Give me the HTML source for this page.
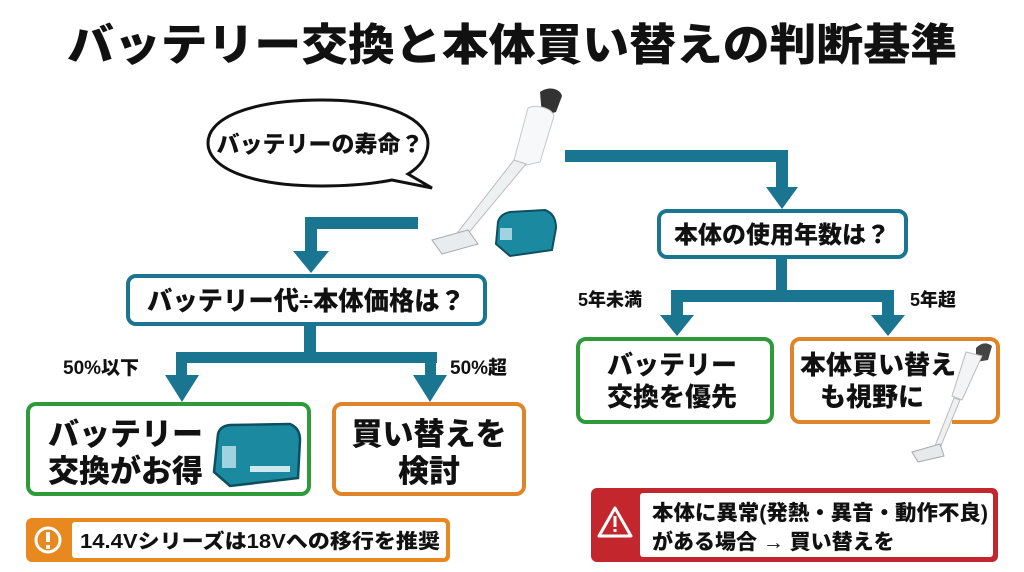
<!DOCTYPE html>
<html><head><meta charset="utf-8"><style>
html,body{margin:0;padding:0;background:#fff;}
svg{display:block;}
text{font-family:"Liberation Sans","Noto Sans CJK JP",sans-serif;font-weight:900;fill:#111;}
</style></head><body>
<svg width="1024" height="572" viewBox="0 0 1024 572" xmlns="http://www.w3.org/2000/svg">
<rect width="1024" height="572" fill="#fff"/>
<!-- title -->
<text x="512" y="60" font-size="44" text-anchor="middle" textLength="890" lengthAdjust="spacingAndGlyphs">バッテリー交換と本体買い替えの判断基準</text>

<!-- speech bubble -->
<path d="M322,100 C390,100 428,120 428,143 C428,158 418,168 408,174 L432,188 L392,180 C372,184 350,186 322,186 C250,186 208,168 208,143 C208,118 250,100 322,100 Z" fill="#fff" stroke="#111" stroke-width="3"/>
<text x="320" y="152" font-size="23" text-anchor="middle">バッテリーの寿命？</text>

<!-- vacuum -->
<g>
<path d="M540,92 C548,86 560,88 562,96 L556,112 L542,116 Z" fill="#333"/>
<path d="M528,108 C536,104 552,108 554,116 L540,162 L522,166 L514,160 Z" fill="#f6f8f9" stroke="#c4c8ca" stroke-width="1"/>
<path d="M514,160 L526,164 L466,236 L458,232 Z" fill="#eef1f2" stroke="#bbb" stroke-width="1"/>
<path d="M432,240 L468,230 L478,244 L442,254 Z" fill="#e8ecee" stroke="#aaa" stroke-width="1"/>
</g>
<!-- battery top -->
<g>
<path d="M498,222 Q500,214 510,212 L545,210 Q556,214 556,228 L552,250 L510,256 L496,244 Z" fill="#1b8aa0" stroke="#0d4f5e" stroke-width="2"/>
<rect x="500" y="228" width="12" height="12" fill="#9fd3df"/>
</g>

<!-- left connectors -->
<g fill="#1a7590">
<rect x="305" y="217" width="113" height="12"/>
<rect x="305" y="217" width="12" height="36"/>
<polygon points="293,251 329,251 311,273"/>
<rect x="304" y="324" width="12" height="34"/>
<rect x="176" y="352" width="261" height="11"/>
<rect x="176" y="352" width="11" height="26"/>
<rect x="425" y="352" width="11" height="26"/>
<polygon points="165,375 199,375 182,402"/>
<polygon points="413,375 447,375 430,402"/>
</g>
<rect x="128" y="276" width="357" height="48" rx="8" fill="#fff" stroke="#1a7590" stroke-width="4"/>
<text x="306" y="310" font-size="26" text-anchor="middle" textLength="318" lengthAdjust="spacingAndGlyphs">バッテリー代÷本体価格は？</text>
<text x="63" y="374" font-size="19">50%以下</text>
<text x="450" y="374" font-size="19">50%超</text>

<rect x="28" y="404" width="281" height="90" rx="8" fill="#fff" stroke="#2e9a3a" stroke-width="4"/>
<text x="48" y="445" font-size="31">バッテリー</text>
<text x="48" y="482" font-size="31">交換がお得</text>
<g>
<path d="M218,434 Q220,426 230,425 L290,424 Q300,428 300,440 L298,478 L230,486 L214,472 Z" fill="#1b8aa0" stroke="#0d4f5e" stroke-width="2.5"/>
<rect x="222" y="446" width="14" height="22" fill="#9fd3df"/>
<rect x="250" y="466" width="40" height="6" fill="#cde9ef"/>
</g>
<rect x="334" y="404" width="190" height="90" rx="8" fill="#fff" stroke="#e0842a" stroke-width="4"/>
<text x="429" y="445" font-size="31" text-anchor="middle">買い替えを</text>
<text x="429" y="482" font-size="31" text-anchor="middle">検討</text>

<!-- note -->
<rect x="26" y="518" width="424" height="44" rx="6" fill="#e8891f"/>
<rect x="72" y="522" width="374" height="36" rx="3" fill="#fff"/>
<circle cx="48" cy="540" r="12" fill="none" stroke="#fff" stroke-width="3"/>
<rect x="46" y="532" width="4" height="10" fill="#fff"/>
<rect x="46" y="545" width="4" height="4" fill="#fff"/>
<text x="80" y="548" font-size="20" textLength="360" lengthAdjust="spacingAndGlyphs">14.4Vシリーズは18Vへの移行を推奨</text>

<!-- right connectors -->
<g fill="#1a7590">
<rect x="565" y="150" width="223" height="12"/>
<rect x="776" y="150" width="12" height="40"/>
<polygon points="766,187 798,187 782,209"/>
<rect x="776" y="256" width="11" height="40"/>
<rect x="671" y="290" width="222" height="12"/>
<rect x="671" y="290" width="12" height="28"/>
<rect x="882" y="290" width="12" height="28"/>
<polygon points="660,315 694,315 677,336"/>
<polygon points="871,315 905,315 888,336"/>
</g>
<rect x="659" y="211" width="247" height="46" rx="8" fill="#fff" stroke="#1a7590" stroke-width="4"/>
<text x="782" y="243" font-size="24" text-anchor="middle">本体の使用年数は？</text>
<text x="578" y="306" font-size="18">5年未満</text>
<text x="910" y="306" font-size="18">5年超</text>

<rect x="578" y="339" width="194" height="83" rx="8" fill="#fff" stroke="#2e9a3a" stroke-width="4"/>
<text x="672" y="374" font-size="26" text-anchor="middle">バッテリー</text>
<text x="672" y="406" font-size="26" text-anchor="middle">交換を優先</text>
<rect x="792" y="339" width="206" height="83" rx="8" fill="#fff" stroke="#e0842a" stroke-width="4"/>
<text x="878" y="374" font-size="26" text-anchor="middle">本体買い替え</text>
<text x="872" y="406" font-size="26" text-anchor="middle">も視野に</text>
<!-- small vacuum -->
<rect x="930" y="418" width="22" height="8" fill="#fff"/>
<path d="M976,348 Q984,340 992,346 L988,360 L976,362 Z" fill="#444"/>
<path d="M966,352 L982,356 L962,400 L952,396 Z" fill="#f2f4f5" stroke="#bbb" stroke-width="1"/>
<path d="M954,398 L960,400 L940,448 L935,446 Z" fill="#eef0f1" stroke="#bbb" stroke-width="1"/>
<path d="M912,452 L940,444 L944,456 L918,462 Z" fill="#e6eaeb" stroke="#aaa" stroke-width="1"/>

<!-- warning -->
<rect x="591" y="488" width="407" height="74" rx="6" fill="#c3262c"/>
<rect x="640" y="493" width="353" height="64" rx="3" fill="#fff"/>
<polygon points="615,508 631,536 599,536" fill="none" stroke="#fff" stroke-width="3" stroke-linejoin="round"/>
<rect x="613.5" y="516" width="3" height="11" fill="#fff"/>
<rect x="613.5" y="529" width="3" height="3" fill="#fff"/>
<text x="652" y="520" font-size="21" textLength="336" lengthAdjust="spacingAndGlyphs">本体に異常(発熱・異音・動作不良)</text>
<text x="652" y="549" font-size="21">がある場合 → 買い替えを</text>
</svg>
</body></html>
